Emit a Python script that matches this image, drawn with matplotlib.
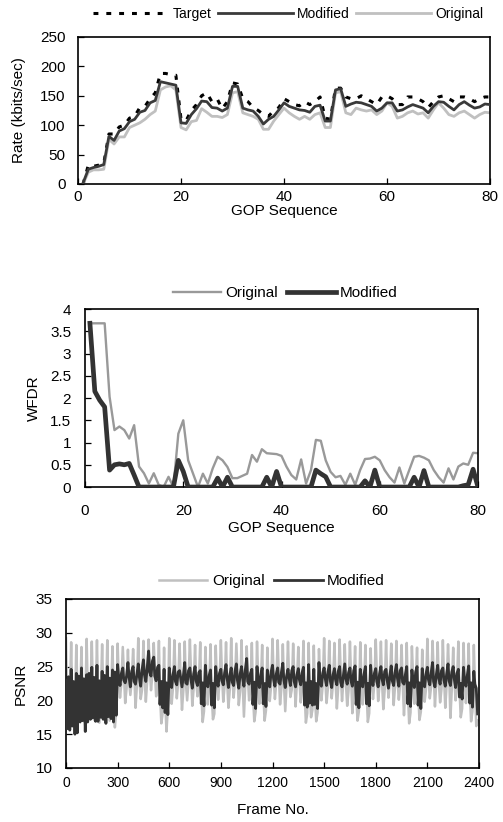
import numpy as np
import matplotlib
matplotlib.use('Agg')
import matplotlib.pyplot as plt

plt.rcParams['font.family'] = ['Liberation Sans', 'DejaVu Sans']

# ---------------- data: rate per GOP ----------------
gop = np.arange(1, 81)
rate_target = [0, 32, 30, 32, 35, 85, 85, 97, 100, 112,
               115, 130, 132, 145, 155, 188, 188, 186, 185, 110,
               108, 125, 135, 150, 155, 140, 145, 128, 140, 172,
               170, 145, 140, 130, 125, 118, 115, 125, 130, 145,
               140, 135, 133, 140, 135, 140, 148, 112, 110, 163,
               163, 148, 145, 145, 150, 145, 140, 135, 148, 150,
               145, 135, 135, 148, 148, 145, 140, 130, 140, 148,
               150, 145, 140, 148, 148, 145, 140, 145, 148, 148]
rate_modified = [2, 25, 28, 30, 33, 81, 74, 90, 94, 106,
                 110, 122, 125, 138, 142, 174, 172, 170, 168, 104,
                 103, 118, 128, 141, 140, 130, 129, 124, 129, 166,
                 166, 129, 126, 124, 115, 102, 110, 115, 126, 138,
                 132, 129, 126, 125, 122, 132, 134, 107, 107, 160,
                 162, 132, 136, 139, 138, 135, 132, 124, 129, 138,
                 138, 124, 126, 131, 135, 132, 129, 121, 132, 140,
                 139, 132, 126, 135, 140, 134, 129, 131, 136, 135]
rate_original = [0, 20, 24, 24, 25, 76, 68, 80, 80, 96,
                 100, 104, 110, 118, 124, 160, 165, 167, 160, 96,
                 92, 106, 108, 128, 122, 115, 115, 113, 118, 155,
                 157, 121, 118, 115, 110, 93, 93, 107, 118, 129,
                 121, 115, 110, 115, 110, 118, 121, 96, 96, 155,
                 157, 121, 118, 129, 126, 124, 126, 118, 124, 138,
                 132, 112, 115, 121, 124, 119, 121, 112, 126, 138,
                 129, 118, 115, 121, 124, 118, 112, 118, 122, 121]

# ---------------- data: WFDR per GOP ----------------
wfdr_original = [3.68, 3.68, 3.68, 3.68, 2.03, 1.28, 1.36, 1.28, 1.09, 1.39,
                 0.46, 0.31, 0.08, 0.31, 0.05, 0.0, 0.23, 0.0, 1.2, 1.5,
                 0.6, 0.3, 0.0, 0.3, 0.08, 0.42, 0.68, 0.6, 0.45, 0.2,
                 0.2, 0.25, 0.3, 0.72, 0.57, 0.85, 0.76, 0.75, 0.74, 0.7,
                 0.46, 0.27, 0.17, 0.62, 0.08, 0.38, 1.06, 1.04, 0.6, 0.34,
                 0.22, 0.25, 0.05, 0.3, 0.05, 0.38, 0.63, 0.64, 0.68, 0.6,
                 0.38, 0.22, 0.1, 0.44, 0.08, 0.38, 0.68, 0.7, 0.66, 0.6,
                 0.38, 0.22, 0.1, 0.42, 0.17, 0.46, 0.53, 0.5, 0.77, 0.76]
wfdr_modified = [3.68, 2.15, 1.95, 1.8, 0.38, 0.5, 0.52, 0.5, 0.53, 0.27,
                 0, 0, 0, 0, 0, 0, 0, 0, 0.6, 0.35,
                 0, 0, 0, 0, 0, 0, 0.2, 0, 0.22, 0,
                 0, 0, 0, 0, 0, 0, 0.22, 0, 0.35, 0,
                 0, 0, 0, 0, 0, 0, 0.38, 0.3, 0.23, 0,
                 0, 0, 0, 0, 0, 0, 0.14, 0, 0.38, 0,
                 0, 0, 0, 0, 0, 0, 0.22, 0, 0.37, 0,
                 0, 0, 0, 0, 0, 0, 0.03, 0.05, 0.4, 0]

# ---------------- data: PSNR, 4 samples per GOP (30 frames) ----------------
frame_offsets = [0, 6, 14, 22]
psnr_orig_0 = [29.2, 28.6, 28.2, 27.9, 29.1, 28.7, 28.9, 28.3, 28.9, 28.0,
               28.4, 27.9, 27.5, 27.6, 29.2, 28.8, 29.0, 28.5, 28.8, 27.8,
               29.2, 28.9, 28.4, 28.7, 29.0, 28.2, 28.6, 27.9, 28.3, 28.1,
               28.9, 28.6, 29.2, 28.4, 28.9, 28.0, 28.5, 28.7, 28.2, 27.8,
               29.1, 28.9, 28.3, 28.7, 28.4, 27.9, 28.8, 28.5, 28.1, 27.6,
               29.2, 28.8, 28.5, 29.0, 28.3, 28.7, 28.0, 28.6, 28.2, 27.7,
               29.0, 28.7, 28.9, 28.4, 28.8, 28.2, 28.5, 28.0, 27.8, 27.5,
               29.1, 28.8, 28.6, 28.9, 28.3, 27.8, 28.7, 28.5, 28.4, 28.2]
psnr_orig_1 = [21.0, 20.5, 21.8, 20.2, 22.0, 21.4, 20.8, 21.6, 21.2, 22.3,
               23.6, 24.2, 23.0, 24.5, 23.4, 24.0, 25.2, 24.4, 21.0, 20.2,
               23.2, 24.0, 23.5, 22.8, 24.3, 23.1, 21.5, 23.8, 21.2, 23.5,
               24.1, 22.9, 23.7, 24.4, 23.0, 23.8, 21.3, 24.2, 21.6, 23.3,
               23.8, 24.3, 22.9, 23.6, 24.1, 23.2, 21.4, 21.8, 21.1, 23.9,
               23.4, 24.0, 23.1, 24.4, 22.8, 23.7, 21.2, 23.9, 21.5, 23.6,
               24.2, 23.0, 23.8, 24.3, 23.4, 22.9, 21.6, 24.1, 21.3, 23.5,
               23.7, 24.4, 22.8, 23.9, 24.2, 23.3, 21.8, 23.6, 21.4, 22.5]
psnr_orig_2 = [17.2, 16.8, 17.5, 16.9, 17.8, 17.1, 16.7, 17.4, 17.0, 16.0,
               20.4, 19.6, 20.8, 18.9, 20.2, 19.8, 21.5, 20.6, 16.6, 15.4,
               19.5, 20.3, 18.6, 20.0, 19.2, 20.6, 16.8, 19.4, 17.2, 20.1,
               19.8, 18.9, 20.4, 19.3, 17.6, 20.0, 16.9, 19.5, 17.0, 19.9,
               20.2, 19.4, 18.4, 20.5, 19.1, 19.7, 16.7, 17.5, 16.9, 20.0,
               19.6, 20.3, 18.8, 19.9, 19.2, 18.1, 17.0, 19.4, 16.8, 20.2,
               19.9, 18.7, 20.4, 19.3, 20.1, 17.8, 16.6, 19.5, 17.1, 19.8,
               20.3, 19.1, 19.7, 18.9, 17.4, 20.0, 17.5, 19.6, 16.9, 16.2]
psnr_orig_3 = [19.5, 18.9, 20.2, 19.4, 20.8, 19.8, 20.4, 19.6, 20.9, 18.4,
               22.6, 21.8, 22.9, 22.2, 21.6, 23.0, 23.8, 22.5, 18.2, 19.0,
               22.0, 22.7, 21.5, 22.8, 21.9, 22.4, 18.4, 22.1, 18.0, 22.6,
               22.3, 21.7, 22.9, 21.4, 22.5, 22.0, 18.3, 22.4, 18.5, 22.2,
               22.7, 21.9, 22.4, 21.6, 22.8, 21.8, 18.1, 18.6, 18.2, 22.3,
               21.8, 22.6, 22.0, 22.9, 21.5, 22.3, 18.4, 22.0, 18.1, 22.5,
               22.4, 21.6, 22.8, 22.1, 22.6, 21.9, 18.2, 22.5, 18.3, 21.7,
               22.1, 22.9, 21.7, 22.4, 21.8, 22.6, 18.8, 22.0, 18.4, 17.0]
psnr_mod_0 = [23.0, 24.6, 24.0, 24.8, 23.8, 24.9, 25.2, 24.3, 25.0, 24.5,
              25.3, 24.8, 25.6, 25.0, 25.4, 26.0, 27.3, 26.4, 25.2, 24.6,
              24.8, 25.0, 24.4, 25.6, 24.8, 25.0, 24.4, 25.2, 24.5, 25.0,
              24.6, 25.3, 24.8, 25.4, 25.0, 26.2, 24.6, 25.0, 24.8, 24.5,
              25.2, 24.8, 25.5, 24.6, 25.0, 24.7, 24.9, 25.3, 24.6, 25.6,
              24.8, 25.2, 24.7, 25.0, 25.4, 24.8, 25.1, 24.6, 25.0, 25.2,
              24.7, 25.0, 24.6, 25.1, 25.3, 24.8, 25.0, 24.5, 25.0, 24.7,
              24.9, 25.6, 25.2, 24.8, 25.4, 25.0, 24.6, 24.9, 25.1, 24.3]
psnr_mod_1 = [15.8, 16.2, 15.2, 17.0, 16.8, 17.4, 16.9, 17.2, 17.6, 16.8,
              23.4, 23.0, 23.6, 22.8, 23.5, 23.8, 24.2, 23.6, 19.4, 18.2,
              23.2, 22.8, 23.4, 22.6, 23.1, 22.9, 19.5, 23.0, 19.3, 23.2,
              22.9, 23.3, 22.7, 23.0, 23.4, 22.8, 19.4, 23.1, 19.5, 22.9,
              23.2, 22.7, 23.0, 23.4, 22.8, 23.1, 19.3, 19.6, 19.4, 23.0,
              23.3, 22.9, 23.1, 22.7, 23.2, 22.9, 19.4, 23.0, 19.5, 23.1,
              22.8, 23.2, 23.0, 22.9, 23.3, 22.7, 19.5, 23.1, 19.3, 22.9,
              23.1, 22.8, 23.3, 23.0, 22.9, 23.2, 20.5, 23.0, 19.6, 22.4]
psnr_mod_2 = [23.5, 22.8, 23.6, 23.2, 24.0, 23.4, 22.9, 23.7, 23.3, 24.2,
              22.2, 22.6, 22.0, 22.4, 22.1, 22.8, 23.6, 22.9, 22.8, 22.6,
              21.9, 22.3, 22.0, 22.4, 21.8, 22.2, 22.6, 22.0, 22.5, 22.1,
              22.3, 21.9, 22.2, 21.8, 22.1, 22.4, 22.7, 21.9, 22.5, 22.0,
              22.1, 22.4, 21.9, 22.2, 22.0, 22.3, 22.6, 22.8, 22.5, 22.1,
              22.2, 21.9, 22.3, 22.0, 22.4, 22.1, 22.7, 22.0, 22.5, 22.2,
              22.0, 22.3, 21.8, 22.2, 22.1, 22.4, 22.6, 21.9, 22.6, 22.0,
              22.3, 22.0, 22.4, 22.1, 22.2, 21.9, 22.5, 22.1, 22.6, 21.8]
psnr_mod_3 = [15.6, 15.0, 16.8, 15.4, 17.2, 16.9, 17.5, 16.6, 17.3, 17.8,
              24.0, 23.6, 24.3, 23.8, 24.5, 24.8, 25.8, 24.9, 18.9, 17.9,
              23.8, 24.2, 23.6, 24.4, 23.9, 24.1, 19.2, 23.7, 18.9, 24.0,
              24.1, 23.7, 24.3, 23.9, 24.5, 24.0, 18.8, 23.8, 19.1, 24.2,
              23.9, 24.2, 23.6, 24.4, 23.8, 24.1, 19.0, 19.3, 18.8, 24.0,
              24.2, 23.8, 24.3, 23.7, 24.1, 24.4, 18.9, 23.9, 19.2, 24.0,
              23.9, 24.3, 23.7, 24.1, 24.4, 23.8, 19.1, 24.2, 18.8, 23.9,
              24.1, 23.8, 24.4, 23.9, 24.2, 24.0, 20.2, 23.7, 19.0, 18.0]

# frame numbers of the samples
frames = (np.arange(80)[:, None] * 30 + np.array(frame_offsets)[None, :]).ravel()
psnr_orig = np.column_stack([psnr_orig_0, psnr_orig_1, psnr_orig_2, psnr_orig_3]).ravel()
psnr_mod = np.column_stack([psnr_mod_0, psnr_mod_1, psnr_mod_2, psnr_mod_3]).ravel()

dark = '#333333'

fig = plt.figure(figsize=(5.03, 8.22), dpi=100)


def style_axes(ax, xpad, ypad):
    ax.tick_params(direction='in', length=4, width=0.9, labelsize=11)
    ax.tick_params(axis='x', pad=xpad)
    ax.tick_params(axis='y', pad=ypad)
    for s in ax.spines.values():
        s.set_linewidth(1.2)


# ---------------- top: rate ----------------
ax1 = fig.add_axes([0.1551, 0.7762, 0.8191, 0.1788])
ax1.plot(gop, rate_target, color='black', lw=2.2, linestyle=(0, (1.6, 2.6)), label='Target', zorder=1)
ax1.plot(gop, rate_modified, color='#3a3a3a', lw=2.0, label='Modified', zorder=3)
ax1.plot(gop, rate_original, color='#c0c0c0', lw=2.0, label='Original', zorder=2)
ax1.set_xlim(0, 80)
ax1.set_ylim(0, 250)
ax1.set_xticks(range(0, 81, 20))
ax1.set_yticks(range(0, 251, 50))
style_axes(ax1, 4.5, 9)
ax1.set_xlabel('GOP Sequence', fontsize=11)
ax1.set_ylabel('Rate (kbits/sec)', fontsize=11)
ax1.xaxis.set_label_coords(0.5, -0.135)
ax1.yaxis.set_label_coords(-0.127, 0.5)
ax1.legend(loc='center', bbox_to_anchor=(0.51, 1.156), ncol=3, frameon=False,
           fontsize=10, handlelength=5.4, handletextpad=0.3, columnspacing=0.45)

# ---------------- middle: WFDR ----------------
ax2 = fig.add_axes([0.1690, 0.4075, 0.7813, 0.2165])
ax2.plot(gop, wfdr_original, color='#999999', lw=1.7, label='Original', zorder=2)
ax2.plot(gop, wfdr_modified, color=dark, lw=3.4, label='Modified', zorder=3)
ax2.set_xlim(0, 80)
ax2.set_ylim(0, 4)
ax2.set_xticks(range(0, 81, 20))
ax2.set_yticks(np.arange(0, 4.01, 0.5))
ax2.set_yticklabels(['0', '0.5', '1', '1.5', '2', '2.5', '3', '3.5', '4'])
style_axes(ax2, 12, 10)
ax2.set_xlabel('GOP Sequence', fontsize=11)
ax2.set_ylabel('WFDR', fontsize=11)
ax2.xaxis.set_label_coords(0.5, -0.19)
ax2.yaxis.set_label_coords(-0.112, 0.5)
ax2.legend(loc='center', bbox_to_anchor=(0.509, 1.09), ncol=2, frameon=False,
           fontsize=11, handlelength=3.15, handletextpad=0.26, columnspacing=0.65)

# ---------------- bottom: PSNR ----------------
ax3 = fig.add_axes([0.1312, 0.0657, 0.8211, 0.2056])
ax3.plot(frames, psnr_orig, color='#c0c0c0', lw=1.8, label='Original', zorder=2)
ax3.plot(frames, psnr_mod, color=dark, lw=2.0, label='Modified', zorder=3)
ax3.set_xlim(0, 2400)
ax3.set_ylim(10, 35)
ax3.set_xticks(range(0, 2401, 300))
ax3.set_yticks(range(10, 36, 5))
style_axes(ax3, 6, 9.4)
ax3.tick_params(axis='x', labelsize=10)
ax3.set_xlabel('Frame No.', fontsize=11)
ax3.set_ylabel('PSNR', fontsize=11)
ax3.xaxis.set_label_coords(0.5, -0.21)
ax3.yaxis.set_label_coords(-0.092, 0.5)
ax3.legend(loc='center', bbox_to_anchor=(0.499, 1.107), ncol=2, frameon=False,
           fontsize=11, handlelength=3.15, handletextpad=0.3, columnspacing=0.65)

fig.savefig('out.png', dpi=100)
print('finish')
